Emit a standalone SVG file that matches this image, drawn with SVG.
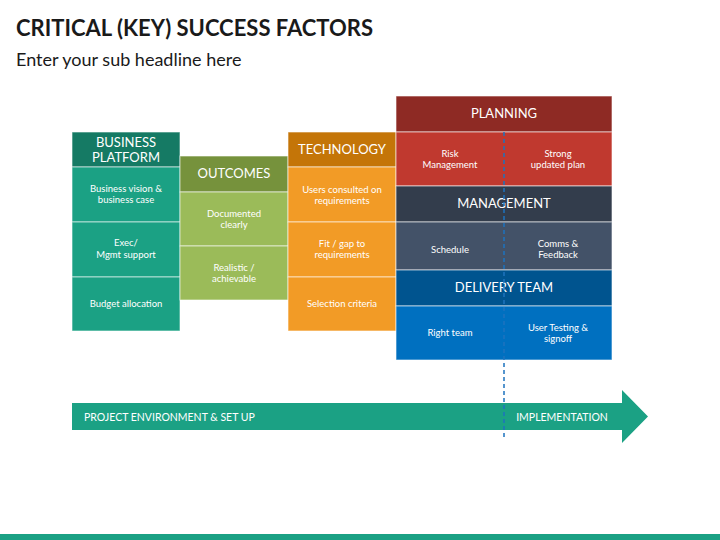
<svg xmlns="http://www.w3.org/2000/svg" width="720" height="540" viewBox="0 0 720 540">
<style>
text{font-family:Lato,"Open Sans",sans-serif;fill:#fff;text-anchor:middle}
.h{font-size:13px}
.c{font-size:9.5px}
.t{fill:#1a1a1a;text-anchor:start}
rect{stroke:#fff;stroke-opacity:0.6;stroke-width:1}
</style>
<rect width="720" height="540" fill="#fff" style="stroke:none"/>
<text class="t" x="16" y="36" font-size="22" font-weight="bold">CRITICAL (KEY) SUCCESS FACTORS</text>
<text class="t" x="16" y="66" font-size="18">Enter your sub headline here</text>
<g id="business">
<rect x="72" y="132" width="108" height="35" fill="#157a64"/>
<text class="h" x="126" y="147">BUSINESS</text><text class="h" x="126" y="162">PLATFORM</text>
<rect x="72" y="167" width="108" height="55" fill="#1ba184"/>
<text class="c" x="126" y="192">Business vision &amp;</text><text class="c" x="126" y="203">business case</text>
<rect x="72" y="222" width="108" height="55" fill="#1ba184"/>
<text class="c" x="126" y="246">Exec/</text><text class="c" x="126" y="258">Mgmt support</text>
<rect x="72" y="277" width="108" height="54" fill="#1ba184"/>
<text class="c" x="126" y="307">Budget allocation</text>
</g>
<g id="outcomes">
<rect x="180" y="156" width="108" height="36" fill="#76923c"/>
<text class="h" x="234" y="178">OUTCOMES</text>
<rect x="180" y="192" width="108" height="54" fill="#9bbb59"/>
<text class="c" x="234" y="217">Documented</text><text class="c" x="234" y="228">clearly</text>
<rect x="180" y="246" width="108" height="54" fill="#9bbb59"/>
<text class="c" x="234" y="271">Realistic /</text><text class="c" x="234" y="282">achievable</text>
</g>
<g id="technology">
<rect x="288" y="132" width="108" height="35" fill="#c47508"/>
<text class="h" x="342" y="154">TECHNOLOGY</text>
<rect x="288" y="167" width="108" height="55" fill="#f29b26"/>
<text class="c" x="342" y="193">Users consulted on</text><text class="c" x="342" y="204">requirements</text>
<rect x="288" y="222" width="108" height="55" fill="#f29b26"/>
<text class="c" x="342" y="247">Fit / gap to</text><text class="c" x="342" y="258">requirements</text>
<rect x="288" y="277" width="108" height="54" fill="#f29b26"/>
<text class="c" x="342" y="307">Selection criteria</text>
</g>
<g id="planning">
<rect x="396" y="96" width="216" height="36" fill="#8e2a24"/>
<text class="h" x="504" y="118">PLANNING</text>
<rect x="396" y="132" width="216" height="54" fill="#c0392f"/>
<text class="c" x="450" y="157">Risk</text><text class="c" x="450" y="168">Management</text>
<text class="c" x="558" y="157">Strong</text><text class="c" x="558" y="168">updated plan</text>
</g>
<g id="management">
<rect x="396" y="186" width="216" height="36" fill="#333d4c"/>
<text class="h" x="504" y="208">MANAGEMENT</text>
<rect x="396" y="222" width="216" height="48" fill="#435268"/>
<text class="c" x="450" y="253">Schedule</text>
<text class="c" x="558" y="247">Comms &amp;</text><text class="c" x="558" y="258">Feedback</text>
</g>
<g id="delivery">
<rect x="396" y="270" width="216" height="36" fill="#00548f"/>
<text class="h" x="504" y="292">DELIVERY TEAM</text>
<rect x="396" y="306" width="216" height="54" fill="#0070c0"/>
<text class="c" x="450" y="336">Right team</text>
<text class="c" x="558" y="331">User Testing &amp;</text><text class="c" x="558" y="342">signoff</text>
</g>
<g id="arrow">
<path d="M72 403H622V390L648 416.5L622 443V430H72Z" fill="#1ba184"/>
<text x="84" y="421" font-size="10.5" style="text-anchor:start">PROJECT ENVIRONMENT &amp; SET UP</text>
<text x="562" y="421" font-size="10.5">IMPLEMENTATION</text>
</g>
<g id="connectors">
<line x1="504" y1="132" x2="504" y2="440" stroke="#1e73be" stroke-width="1.5" stroke-dasharray="4,3"/>
</g>
<rect x="0" y="534" width="720" height="6" fill="#1ba184" style="stroke:none"/>
</svg>
